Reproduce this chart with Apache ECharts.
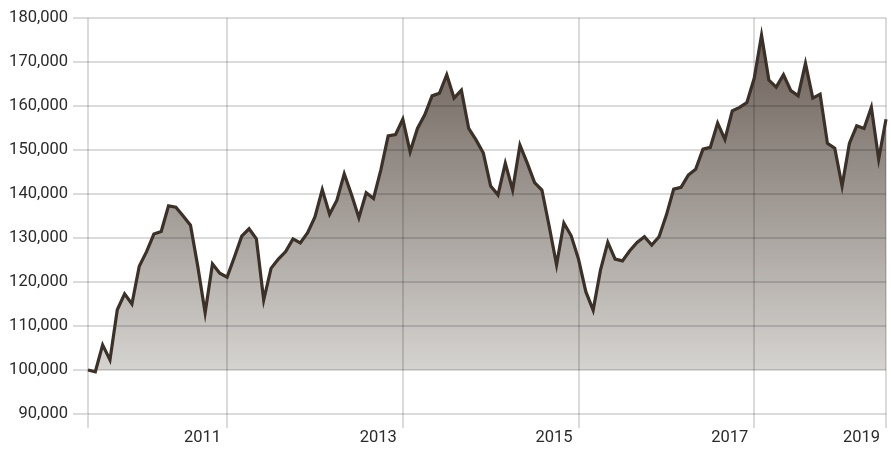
<!DOCTYPE html>
<html>
<head>
<meta charset="utf-8">
<script src="https://cdn.jsdelivr.net/npm/echarts@6/dist/echarts.min.js"></script>
<style>
html,body{margin:0;padding:0;background:#fff;}
#chart{width:891px;height:449px;}
</style>
</head>
<body>
<div id="chart"></div>
<script>
// Monthly values, June 2009 .. July 2018
const startYear = 2009, startMonth = 6, monthCount = 110;
const values = [
  100000, 99600, 105700, 102300, 113700, 117300, 115000, 123600, 126900, 130900,
  131500, 137300, 137000, 135000, 132900, 123500, 113000, 124100, 122000, 121100,
  125700, 130400, 132100, 129800, 115900, 123100, 125200, 126900, 129800, 128900,
  131200, 134800, 141000, 135400, 138600, 144600, 139800, 134600, 140300, 139000,
  145500, 153200, 153500, 157000, 149600, 154900, 158000, 162300, 162900, 167100,
  161800, 163600, 154900, 152300, 149300, 141800, 139800, 147000, 140900, 151100,
  147000, 142600, 140900, 132600, 123900, 133400, 130500, 125200, 117800, 113600,
  122700, 129000, 125200, 124800, 127100, 129000, 130300, 128400, 130300, 135200,
  141100, 141500, 144300, 145600, 150200, 150600, 156100, 152400, 158900, 159700,
  160800, 166300, 176100, 165900, 164300, 167100, 163500, 162300, 169700, 161800,
  162700, 151500, 150400, 141800, 151500, 155500, 154900, 159700, 147900, 157000
];
const gridMonths = ['2009-06', '2011-01', '2013-01', '2015-01', '2017-01', '2018-07'];
const xLabelMonths = ['2011-01', '2013-01', '2015-01', '2017-01', '2018-07'];
const xLabelTexts = ['2011', '2013', '2015', '2017', '2019'];
const yMin = 90000, yMax = 180000, yStep = 10000, areaBase = 100000;

const categories = [];
for (let i = 0; i < monthCount; i++) {
  const m = startMonth - 1 + i;
  const y = startYear + Math.floor(m / 12);
  const mm = (m % 12) + 1;
  categories.push(y + '-' + (mm < 10 ? '0' + mm : mm));
}

const FONT = "Roboto, 'Liberation Sans', sans-serif";
const GRID = 'rgba(0,0,0,0.14)';

const chart = echarts.init(document.getElementById('chart'), null, {renderer: 'canvas'});
chart.setOption({
  animation: false,
  grid: {left: 88, right: 5, top: 18, bottom: 35, containLabel: false, outerBoundsMode: 'none'},
  xAxis: {
    type: 'category',
    data: categories,
    boundaryGap: false,
    z: 2,
    axisLine: {show: false},
    axisTick: {
      show: true, length: 14,
      interval: (i, v) => gridMonths.indexOf(v) >= 0,
      lineStyle: {color: GRID, width: 2}
    },
    splitLine: {
      show: true,
      interval: (i, v) => gridMonths.indexOf(v) >= 0,
      lineStyle: {color: GRID, width: 2}
    },
    axisLabel: {
      interval: (i, v) => xLabelMonths.indexOf(v) >= 0,
      formatter: v => { const k = xLabelMonths.indexOf(v); return k >= 0 ? xLabelTexts[k] : ''; },
      align: 'right',
      padding: [0, 6, 0, 0],
      margin: 15,
      color: '#2b2b2b',
      fontSize: 16.5,
      fontFamily: FONT,
      hideOverlap: false
    }
  },
  yAxis: {
    type: 'value',
    min: yMin, max: yMax, interval: yStep,
    z: 2,
    axisLine: {show: false},
    axisTick: {show: true, length: 15, lineStyle: {color: GRID, width: 2}},
    splitLine: {show: true, lineStyle: {color: GRID, width: 2}},
    axisLabel: {
      margin: 20,
      color: '#2b2b2b',
      fontSize: 16.5,
      fontFamily: FONT,
      formatter: v => v.toLocaleString('en-US')
    }
  },
  series: [
    {
      type: 'line',
      data: values,
      z: 1,
      showSymbol: false,
      lineStyle: {width: 0},
      areaStyle: {
        origin: areaBase,
        opacity: 1,
        color: new echarts.graphic.LinearGradient(0, 0, 0, 1, [
          {offset: 0, color: '#6b6058'},
          {offset: 1, color: '#d6d4d1'}
        ])
      },
      silent: true
    },
    {
      type: 'line',
      data: values,
      z: 3,
      showSymbol: false,
      lineStyle: {width: 3.2, color: '#3b3128', join: 'miter'},
      silent: true
    }
  ]
});
</script>
</body>
</html>
